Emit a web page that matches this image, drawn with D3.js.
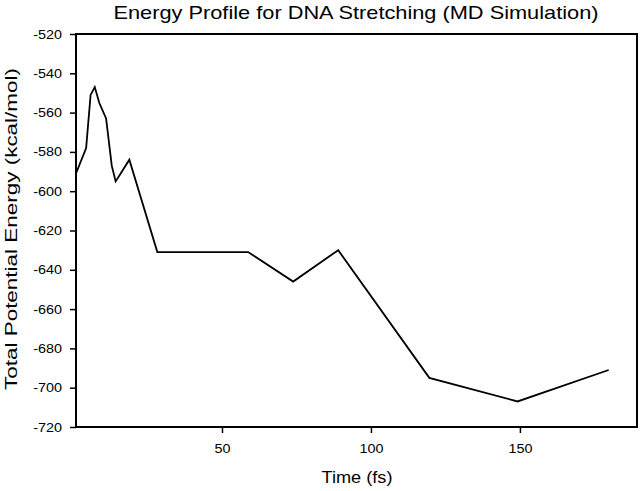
<!DOCTYPE html>
<html>
<head>
<meta charset="utf-8">
<script src="https://cdn.jsdelivr.net/npm/d3@7"></script>
<style>
  html, body { margin: 0; padding: 0; background: #fff; }
  svg { display: block; }
  text { font-family: "Liberation Sans", Arial, sans-serif; fill: #000; }
</style>
</head>
<body>
<svg id="chart" width="640" height="491"></svg>
<script>
const timeFs = [1, 4.4, 5.9, 7.3, 8.8, 11.1, 13, 14.3, 16, 18.9, 28.3, 58.8, 73.9, 89, 119.6, 149.2, 179.8];
const energy = [-591, -578, -551, -547, -555, -563, -587, -595, -591, -584, -631, -631, -646, -630, -695, -707, -691];
const xTicks = [50, 100, 150];
const yTicks = [-520, -540, -560, -580, -600, -620, -640, -660, -680, -700, -720];

const svg = d3.select("#chart");
const m = { left: 76, right: 637, top: 34, bottom: 427 };
const fontFam = "'Liberation Sans', Arial, sans-serif";

const x = d3.scaleLinear().domain([1, 189.3]).range([m.left, m.right]);
const y = d3.scaleLinear().domain([-720, -520]).range([m.bottom, m.top]);

// widen text horizontally (reference glyphs are slightly stretched)
function stretch(sel, k) {
  sel.each(function() {
    const len = this.getComputedTextLength();
    d3.select(this).attr("textLength", len * k).attr("lengthAdjust", "spacingAndGlyphs");
  });
}

// frame
svg.append("rect")
  .attr("x", m.left).attr("y", m.top)
  .attr("width", m.right - m.left).attr("height", m.bottom - m.top)
  .attr("fill", "none").attr("stroke", "#000").attr("stroke-width", 2);

const fmt = d => String(d);

// axes
const xAxis = svg.append("g").attr("transform", `translate(0,${m.bottom})`)
  .call(d3.axisBottom(x).tickValues(xTicks).tickSize(6).tickPadding(11).tickFormat(fmt));
const yAxis = svg.append("g").attr("transform", `translate(${m.left},0)`)
  .call(d3.axisLeft(y).tickValues(yTicks).tickSize(6).tickPadding(8).tickFormat(fmt));
[xAxis, yAxis].forEach(g => {
  g.select(".domain").remove();
  g.selectAll(".tick line").attr("stroke", "#000").attr("stroke-width", 1.5);
  g.selectAll(".tick text").attr("font-size", 12.5).attr("font-family", fontFam).attr("fill", "#000")
    .call(stretch, 1.15);
});

// line
const line = d3.line().x((d, i) => x(timeFs[i])).y(d => y(d));
svg.append("path")
  .datum(energy)
  .attr("d", line)
  .attr("fill", "none")
  .attr("stroke", "#000")
  .attr("stroke-width", 1.8)
  .attr("stroke-linejoin", "miter");

// title
svg.append("text")
  .attr("x", 356).attr("y", 18.5)
  .attr("text-anchor", "middle").attr("font-size", 18.5)
  .attr("textLength", 485).attr("lengthAdjust", "spacingAndGlyphs")
  .text("Energy Profile for DNA Stretching (MD Simulation)");

// x label
svg.append("text")
  .attr("x", 357).attr("y", 483)
  .attr("text-anchor", "middle").attr("font-size", 16)
  .attr("textLength", 71).attr("lengthAdjust", "spacingAndGlyphs")
  .text("Time (fs)");

// y label
svg.append("text")
  .attr("transform", `translate(17,229) rotate(-90)`)
  .attr("text-anchor", "middle").attr("font-size", 17)
  .attr("textLength", 322).attr("lengthAdjust", "spacingAndGlyphs")
  .text("Total Potential Energy (kcal/mol)");
</script>
</body>
</html>
